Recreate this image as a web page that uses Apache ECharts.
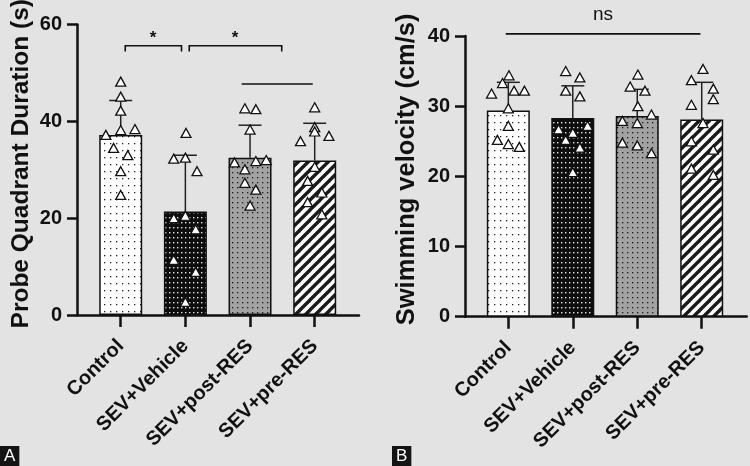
<!DOCTYPE html>
<html><head><meta charset="utf-8">
<script src="https://cdn.jsdelivr.net/npm/echarts@6/dist/echarts.min.js"></script>
<style>html,body{margin:0;padding:0;background:#e3e3e3}#c{width:750px;height:466px}</style>
</head><body><div id="c"></div>
<script>
var categories = ['Control', 'SEV+Vehicle', 'SEV+post-RES', 'SEV+pre-RES'];
var yTicksA = [0, 20, 40, 60];
var yTicksB = [0, 10, 20, 30, 40];

// Panel A: Probe quadrant duration (s)
var meanA = [37.2, 21.4, 32.5, 31.9];
var sdA = [7.1, 11.6, 6.7, 7.7];
var ptsA = [
  [48.2, 45.1, 42.2, 38.2, 38.4, 37.2, 34.5, 33.0, 29.7, 24.8],
  [37.6, 32.3, 32.5, 29.7, 20.0, 20.5, 17.7, 11.4, 8.9, 2.7],
  [42.7, 42.5, 38.3, 31.5, 31.8, 32.0, 30.1, 27.3, 25.9, 22.6],
  [42.9, 38.8, 37.9, 35.9, 37.0, 30.6, 27.7, 25.3, 23.3, 20.8]
];
var jitA = [
  [0, 0, 0, 0, 0.22, -0.23, -0.11, 0.11, 0, 0],
  [0.01, -0.18, 0, 0.18, -0.18, 0, 0.16, -0.18, 0.16, 0],
  [-0.08, 0.09, 0, -0.24, 0.09, 0.25, -0.08, -0.08, 0.09, 0],
  [0, 0, 0, -0.22, 0.22, 0, -0.11, 0.11, -0.11, 0.11]
];

// Panel B: Swimming velocity (cm/s)
var meanB = [29.4, 28.3, 28.6, 28.1];
var sdB = [4.0, 4.6, 3.8, 5.3];
var ptsB = [
  [34.4, 33.3, 31.8, 32.2, 32.2, 29.7, 27.2, 25.2, 24.6, 24.2],
  [35.0, 34.1, 32.2, 31.4, 26.7, 27.2, 26.2, 25.2, 24.1, 20.6],
  [34.5, 32.8, 32.2, 30.0, 27.9, 27.6, 28.8, 24.8, 24.4, 23.3],
  [35.3, 33.7, 32.5, 31.0, 30.2, 27.6, 25.0, 23.8, 21.1, 20.2]
];
var jitB = [
  [0.01, -0.09, -0.26, 0.09, 0.25, 0, 0, -0.17, 0, 0.17],
  [-0.11, 0.11, -0.11, 0.11, -0.22, 0.23, 0, -0.11, 0.11, 0],
  [0.01, -0.11, 0.12, 0.01, -0.23, 0, 0.22, -0.23, 0, 0.22],
  [0.02, -0.16, 0.18, 0.18, -0.16, 0.02, -0.16, 0.18, -0.16, 0.18]
];

// significance annotations: [x1, x2, y, legDrop]
var sigA = [[0.07, 0.94, 55.6, 1.2], [1.06, 2.49, 55.6, 1.2], [1.87, 2.97, 47.7, 0]];
var sigTextA = [[0.5, 57.2, '*'], [1.77, 57.2, '*']];
var sigB = [[-0.04, 2.98, 40.3, 0]];
var sigTextB = [[1.47, 43.0, 'ns']];

function makePattern(w, h, bg, draw) {
  var c = document.createElement('canvas');
  c.width = w; c.height = h;
  var ctx = c.getContext('2d');
  ctx.fillStyle = bg; ctx.fillRect(0, 0, w, h);
  draw(ctx, w, h);
  return { image: c, repeat: 'repeat' };
}
var patterns = [
  makePattern(6, 7, '#ffffff', function (ctx) { ctx.fillStyle = '#222'; ctx.fillRect(2, 3, 1.3, 1.3); }),
  makePattern(4, 5, '#0d0d0d', function (ctx) { ctx.fillStyle = '#e8e8e8'; ctx.fillRect(1, 2, 1.4, 1.4); }),
  makePattern(5, 5, '#a2a2a2', function (ctx) { ctx.fillStyle = '#1a1a1a'; ctx.fillRect(2, 2, 1.3, 1.3); }),
  makePattern(10, 10, '#ffffff', function (ctx, w, h) {
    ctx.strokeStyle = '#1a1a1a'; ctx.lineWidth = 3.4;
    for (var k = -1; k <= 1; k++) {
      ctx.beginPath(); ctx.moveTo(k * w - 1, h + 1); ctx.lineTo(k * w + w + 1, -1); ctx.stroke();
    }
  })
];

var axisColor = '#111';
var FONT = 'Liberation Sans, Arial, sans-serif';

function xAxisDef(gridIndex, min, max) {
  return {
    type: 'value', gridIndex: gridIndex, min: min, max: max, position: 'bottom',
    axisLine: { show: true, onZero: false, lineStyle: { color: axisColor, width: 2.5 } },
    axisTick: { show: true, inside: false, customValues: [0, 1, 2, 3], length: 12, lineStyle: { color: axisColor, width: 2.5 } },
    axisLabel: {
      show: true, customValues: [0, 1, 2, 3], rotate: 45, margin: 28,
      formatter: function (v) { return categories[Math.round(v)] || ''; },
      color: '#111', fontSize: 20, fontWeight: 'bold', fontFamily: FONT
    },
    splitLine: { show: false }
  };
}
function yAxisDef(gridIndex, max, interval, name, gap, fs, shift) {
  return {
    type: 'value', gridIndex: gridIndex, min: 0, max: max, interval: interval, position: 'left',
    name: name, nameLocation: 'middle', nameGap: gap,
    nameTextStyle: { color: '#111', fontSize: fs, fontWeight: 'bold', fontFamily: FONT, padding: [0, 0, 0, shift] },
    axisLine: { show: true, onZero: false, lineStyle: { color: axisColor, width: 2.5 } },
    axisTick: { show: true, inside: false, length: 10, lineStyle: { color: axisColor, width: 2.5 } },
    axisLabel: { inside: false, color: '#111', fontSize: 20, fontWeight: 'bold', fontFamily: FONT, margin: 15 },
    splitLine: { show: false }
  };
}

function barSeries(idx, means) {
  return {
    type: 'bar', xAxisIndex: idx, yAxisIndex: idx, barWidth: 43, z: 2,
    data: means.map(function (m, i) {
      return { value: [i, m], itemStyle: { color: patterns[i] } };
    }),
    itemStyle: { borderColor: '#111', borderWidth: 1.5 }
  };
}
function errSeries(idx, means, sds) {
  return {
    type: 'custom', xAxisIndex: idx, yAxisIndex: idx, z: 3, clip: false,
    data: means.map(function (m, i) { return [i, m, m + sds[i]]; }),
    renderItem: function (params, api) {
      var b = api.coord([api.value(0), api.value(1)]);
      var t = api.coord([api.value(0), api.value(2)]);
      return { type: 'group', children: [
        { type: 'line', shape: { x1: b[0], y1: b[1], x2: t[0], y2: t[1] }, style: { stroke: '#222', lineWidth: 1.5 } },
        { type: 'line', shape: { x1: t[0] - 11.5, y1: t[1], x2: t[0] + 11.5, y2: t[1] }, style: { stroke: '#222', lineWidth: 1.5 } }
      ] };
    }
  };
}
function ptSeries(idx, pts, jit) {
  var d = [];
  pts.forEach(function (arr, i) { arr.forEach(function (v, j) { d.push([i + jit[i][j], v]); }); });
  return {
    type: 'scatter', xAxisIndex: idx, yAxisIndex: idx, z: 4, clip: false,
    symbol: 'triangle', symbolSize: [10, 9],
    itemStyle: { color: '#ffffff', borderColor: '#111', borderWidth: 1.3, opacity: 1 },
    data: d
  };
}
function sigSeries(idx, sig) {
  return {
    type: 'custom', xAxisIndex: idx, yAxisIndex: idx, z: 5, clip: false,
    data: sig,
    renderItem: function (params, api) {
      var x1 = api.value(0), x2 = api.value(1), y = api.value(2), dr = api.value(3);
      var a = api.coord([x1, y - dr]), b = api.coord([x1, y]), c = api.coord([x2, y]), e = api.coord([x2, y - dr]);
      return { type: 'polyline', shape: { points: [a, b, c, e] }, style: { stroke: '#111', lineWidth: 1.6, fill: null } };
    }
  };
}
function sigTextSeries(idx, st, size, weight) {
  return {
    type: 'custom', xAxisIndex: idx, yAxisIndex: idx, z: 5, clip: false,
    data: st,
    renderItem: function (params, api) {
      var p = api.coord([api.value(0), api.value(1)]);
      return { type: 'text', style: { x: p[0], y: p[1], text: st[params.dataIndex][2], fill: '#111',
        font: weight + ' ' + size + 'px ' + FONT, textAlign: 'center', textVerticalAlign: 'middle' } };
    }
  };
}

var chart = echarts.init(document.getElementById('c'), null, { renderer: 'canvas' });
chart.setOption({
  backgroundColor: '#e3e3e3',
  animation: false,
  title: [
    { text: 'A', left: 0, bottom: 0, backgroundColor: '#141414', padding: [2, 4, 1, 4],
      textStyle: { color: '#fff', fontSize: 17, fontWeight: 'normal', fontFamily: FONT } },
    { text: 'B', left: 392, bottom: 0, backgroundColor: '#141414', padding: [2, 4, 1, 4],
      textStyle: { color: '#fff', fontSize: 17, fontWeight: 'normal', fontFamily: FONT } }
  ],
  grid: [
    { left: 77, top: 24.5, width: 282, height: 290.5, outerBoundsMode: 'none', containLabel: false },
    { left: 465, top: 36, width: 281.7, height: 280.7, outerBoundsMode: 'none', containLabel: false }
  ],
  xAxis: [xAxisDef(0, -0.676, 3.685), xAxisDef(1, -0.672, 3.698)],
  yAxis: [
    yAxisDef(0, 60, 20, 'Probe Quadrant Duration (s)', 43, 24.5, 12),
    yAxisDef(1, 40, 10, 'Swimming velocity (cm/s)', 45, 25.5, 14)
  ],
  series: [
    barSeries(0, meanA), errSeries(0, meanA, sdA), ptSeries(0, ptsA, jitA),
    sigSeries(0, sigA), sigTextSeries(0, sigTextA, 17, 'bold'),
    barSeries(1, meanB), errSeries(1, meanB, sdB), ptSeries(1, ptsB, jitB),
    sigSeries(1, sigB), sigTextSeries(1, sigTextB, 19, 'normal')
  ]
});
</script></body></html>
